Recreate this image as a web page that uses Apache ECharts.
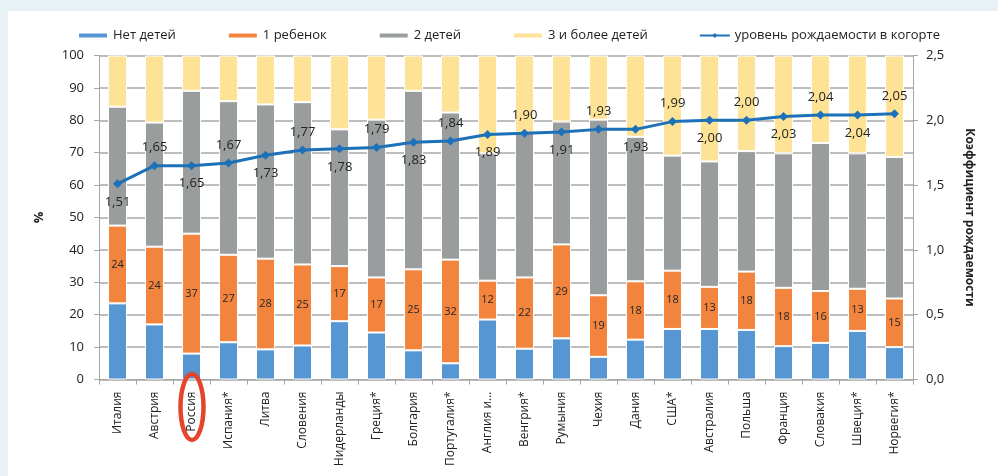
<!DOCTYPE html>
<html>
<head>
<meta charset="utf-8">
<script src="https://cdn.jsdelivr.net/npm/echarts@6/dist/echarts.min.js"></script>
<style>
  html, body { margin: 0; padding: 0; width: 998px; height: 476px; overflow: hidden; background: #e8f1f3; }
  #panel { position: absolute; left: 8px; top: 11px; right: 0; bottom: 0; background: #ffffff; }
  #chart { position: absolute; left: 0; top: 0; width: 998px; height: 476px; }
</style>
</head>
<body>
<div id="panel"></div>
<div id="chart"></div>
<script>
const categories = ['Италия','Австрия','Россия','Испания*','Литва','Словения','Нидерланды','Греция*','Болгария','Португалия*','Англия и...','Венгрия*','Румыния','Чехия','Дания','США*','Австралия','Польша','Франция','Словакия','Швеция*','Норвегия*'];
const noChildren  = [23.5, 17, 8, 11.5, 9.3, 10.5, 18, 14.5, 9, 5, 18.5, 9.5, 12.7, 7, 12.3, 15.6, 15.6, 15.3, 10.3, 11.3, 15, 10];
const oneChild    = [24, 24, 37, 27, 28, 25, 17, 17, 25, 32, 12, 22, 29, 19, 18, 18, 13, 18, 18, 16, 13, 15];
const twoChildren = [36.7, 38.3, 44.1, 47.4, 47.6, 50.1, 42.2, 48.7, 55.1, 45.4, 39.3, 44.6, 37.9, 54.2, 44.6, 35.5, 38.7, 37.2, 41.5, 45.7, 41.8, 43.7];
const threePlus   = [15.8, 20.7, 10.9, 14.1, 15.1, 14.4, 22.8, 19.8, 10.9, 17.6, 30.2, 23.9, 20.4, 19.8, 25.1, 30.9, 32.7, 29.5, 30.2, 27.0, 30.2, 31.3];
const fertility   = [1.51, 1.65, 1.65, 1.67, 1.73, 1.77, 1.78, 1.79, 1.83, 1.84, 1.89, 1.90, 1.91, 1.93, 1.93, 1.99, 2.00, 2.00, 2.03, 2.04, 2.04, 2.05];
const seriesNames = ['Нет детей', '1 ребенок', '2 детей', '3 и более детей', 'уровень рождаемости в когорте'];
const leftTicks = { min: 0, max: 100, interval: 10 };
const rightTicks = { min: 0, max: 2.5, interval: 0.5 };

const FONT = 'Open Sans';
const chart = echarts.init(document.getElementById('chart'), null, { renderer: 'canvas' });

const barBase = {
  type: 'bar', stack: 'total', barWidth: 19,
  itemStyle: { borderColor: '#ffffff', borderWidth: 1 }
};

const option = {
  backgroundColor: 'transparent',
  animation: false,
  textStyle: { fontFamily: FONT },
  legend: {
    left: 72, top: 24,
    itemWidth: 30, itemHeight: 6, itemGap: 51,
    textStyle: { fontFamily: FONT, fontSize: 13, color: '#222' },
    data: seriesNames
  },
  grid: { left: 99, right: 85, top: 55.5, bottom: 96.5 },
  xAxis: {
    type: 'category', data: categories, boundaryGap: true,
    axisLine: { lineStyle: { color: '#a6a6a6', width: 1 } },
    axisTick: { show: true, length: 5, lineStyle: { color: '#a6a6a6' } },
    axisLabel: { rotate: 90, interval: 0, margin: 12, fontFamily: FONT, fontSize: 12, color: '#222' }
  },
  yAxis: [
    {
      type: 'value', min: leftTicks.min, max: leftTicks.max, interval: leftTicks.interval,
      name: '%', nameLocation: 'middle', nameRotate: 90, nameGap: 53,
      nameTextStyle: { fontFamily: FONT, fontSize: 13, fontWeight: 'bold', color: '#222' },
      axisLine: { show: true, lineStyle: { color: '#a6a6a6' } },
      axisTick: { show: true, length: 5, lineStyle: { color: '#a6a6a6' } },
      axisLabel: { margin: 15, fontFamily: FONT, fontSize: 13, color: '#222' },
      splitLine: { show: true, lineStyle: { color: '#bdbdbd', width: 2 } }
    },
    {
      type: 'value', min: rightTicks.min, max: rightTicks.max, interval: rightTicks.interval,
      name: 'Коэффициент рождаемости', nameLocation: 'middle', nameRotate: -90, nameGap: 50,
      nameTextStyle: { fontFamily: FONT, fontSize: 12, fontWeight: 'bold', color: '#222' },
      axisLine: { show: true, lineStyle: { color: '#a6a6a6' } },
      axisTick: { show: true, length: 5, lineStyle: { color: '#a6a6a6' } },
      axisLabel: { margin: 13, fontFamily: FONT, fontSize: 13, color: '#222',
        formatter: v => v.toFixed(1).replace('.', ',') },
      splitLine: { show: false }
    }
  ],
  series: [
    Object.assign({}, barBase, { name: seriesNames[0], data: noChildren, itemStyle: Object.assign({}, barBase.itemStyle, { color: '#5596d3' }) }),
    Object.assign({}, barBase, { name: seriesNames[1], data: oneChild, itemStyle: Object.assign({}, barBase.itemStyle, { color: '#f3843e' }),
      label: { show: true, position: 'inside', fontFamily: FONT, fontSize: 11, color: '#262626' } }),
    Object.assign({}, barBase, { name: seriesNames[2], data: twoChildren, itemStyle: Object.assign({}, barBase.itemStyle, { color: '#9a9d9e' }) }),
    Object.assign({}, barBase, { name: seriesNames[3], data: threePlus, itemStyle: Object.assign({}, barBase.itemStyle, { color: '#fee396' }) }),
    {
      name: seriesNames[4], type: 'line', yAxisIndex: 1,
      symbol: 'diamond', symbolSize: 9,
      lineStyle: { color: '#1d71b8', width: 3 },
      itemStyle: { color: '#1d71b8' },
      z: 5,
      data: fertility.map((v, i) => ({
        value: v,
        label: { show: true, position: i % 2 === 0 ? 'bottom' : 'top', distance: 7,
          fontFamily: FONT, fontSize: 13, color: '#222',
          formatter: p => p.value.toFixed(2).replace('.', ',') }
      }))
    }
  ],
  graphic: [
    {
      type: 'ellipse',
      shape: { cx: 192, cy: 407, rx: 11.5, ry: 33 },
      style: { fill: 'none', stroke: '#e5452c', lineWidth: 4.5 },
      z: 100
    }
  ]
};
chart.setOption(option);
</script>
</body>
</html>
